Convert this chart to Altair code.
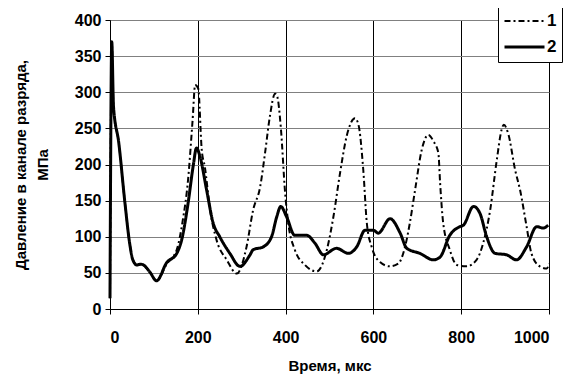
import altair as alt
import pandas as pd

# Series 1 (dash-dot)
t1 = [0, 4, 8, 20, 34, 45, 52, 61, 70, 76, 91, 106, 129, 152, 165, 178, 188, 194, 201, 209, 216, 228, 243, 266, 289,
      311, 326, 342, 353, 364, 376, 381, 389, 399, 406, 421, 444, 471, 494, 509, 524, 539, 558, 566, 577, 585, 596,
      615, 638, 657, 672, 683, 695, 710, 725, 737, 748, 752, 759, 774, 790, 812, 835, 850, 866, 881, 892, 897, 907,
      923, 934, 949, 960, 979, 995, 1000]
p1 = [15, 370, 280, 230, 147, 90, 68, 61, 62, 61, 51, 39, 62, 82, 120, 180, 260, 310, 305, 220, 197, 137, 95, 68, 49,
      86, 137, 169, 215, 266, 298, 294, 252, 160, 119, 82, 61, 52, 82, 128, 188, 239, 264, 255, 192, 119, 86,
      65, 59, 63, 86, 119, 165, 220, 241, 232, 216, 174, 119, 82, 61, 59, 68, 91, 137, 206, 248, 255, 243,
      192, 165, 114, 77, 59, 56, 63]

# Series 2 (solid)
t2 = [0, 4, 8, 20, 34, 45, 52, 61, 70, 76, 91, 106, 129, 152, 163, 178, 190, 197, 205, 220, 235, 250, 273, 296, 319,
      326, 349, 368, 380, 389, 402, 421, 448, 467, 486, 516, 543, 562, 581, 600, 611, 638, 661, 676, 706, 737, 752,
      774, 797, 805, 828, 843, 858, 877, 903, 926, 949, 972, 987, 998]
p2 = [15, 370, 280, 230, 147, 90, 68, 61, 62, 61, 51, 39, 64, 77, 95, 147, 200, 223, 211, 165, 119, 100, 77, 59, 75,
      82, 86, 100, 128, 142, 128, 102, 102, 91, 75, 84, 77, 86, 109, 109, 105, 125, 105, 84, 77, 68, 72,
      102, 114, 116, 142, 132, 100, 77, 75, 68, 86, 114, 112, 116]

series_names = ["1", "2"]

df = pd.concat([
    pd.DataFrame({"t": t1, "p": p1, "series": series_names[0]}),
    pd.DataFrame({"t": t2, "p": p2, "series": series_names[1]}),
])

FONT = "Liberation Sans"

legend = alt.Legend(title=None, labelExpr="datum.label + '\u00a0'")

chart = alt.Chart(df).mark_line(interpolate="monotone").encode(
    x=alt.X("t:Q", scale=alt.Scale(domain=[0, 1000], nice=False),
            axis=alt.Axis(values=[0, 200, 400, 600, 800, 1000], format="d", title="Время, мкс",
                          gridColor="black", gridOpacity=1, labelPadding=15, titlePadding=13)),
    y=alt.Y("p:Q", scale=alt.Scale(domain=[0, 400], nice=False),
            axis=alt.Axis(values=[0, 50, 100, 150, 200, 250, 300, 350, 400], format="d",
                          title=["Давление в канале разряда,", "МПа"],
                          gridColor="#808080", gridOpacity=1, labelPadding=4, titlePadding=24)),
    strokeDash=alt.StrokeDash("series:N", legend=legend,
                              scale=alt.Scale(domain=series_names, range=[[6, 3, 2, 3], [1, 0]])),
    strokeWidth=alt.StrokeWidth("series:N", legend=legend,
                                scale=alt.Scale(domain=series_names, range=[2, 3])),
    color=alt.Color("series:N", legend=legend,
                    scale=alt.Scale(domain=series_names, range=["black", "black"])),
).properties(
    width=439, height=289,
    autosize=alt.AutoSizeParams(type="none"),
    padding={"left": 102, "top": 12, "right": 21, "bottom": 66},
).configure_view(
    stroke="transparent"
).configure_axis(
    labelFont=FONT, labelFontSize=16, labelFontWeight="bold", labelColor="black",
    titleFont=FONT, titleFontSize=15, titleFontWeight="bold", titleColor="black",
    domainColor="black", tickColor="black", tickSize=5, grid=True, gridWidth=1,
    titleLineHeight=22,
).configure_legend(
    orient="none", legendX=388, legendY=-14,
    fillColor="white", strokeColor="black", padding=5,
    labelFont=FONT, labelFontSize=17, labelFontWeight="bold", labelColor="black",
    symbolType="stroke", symbolSize=1600, symbolStrokeColor="black",
    clipHeight=20, rowPadding=6, labelOffset=1,
)

chart.save("out.html", embed_options={"renderer": "svg", "actions": False})
